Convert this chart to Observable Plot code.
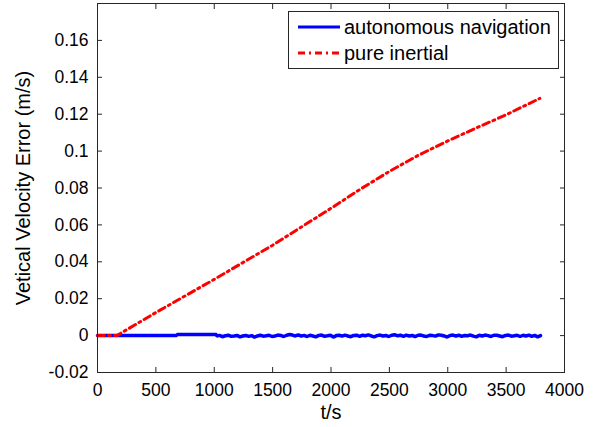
<!DOCTYPE html>
<html>
<head>
<meta charset="utf-8">
<script src="https://cdn.jsdelivr.net/npm/d3@7"></script>
<script src="https://cdn.jsdelivr.net/npm/@observablehq/plot@0.6"></script>
<style>
  html, body { margin: 0; padding: 0; background: #fff; }
  #wrap { position: relative; width: 603px; height: 427px; font-family: "Liberation Sans", Arial, sans-serif; }
  #legend { position: absolute; left: 288px; top: 11px; width: 271px; height: 58px; box-sizing: border-box;
            border: 1px solid #262626; background: #fff; }
  .row { position: absolute; left: 0; height: 26px; width: 100%; }
  .row svg { position: absolute; left: 8px; top: 0; }
  .row span { position: absolute; left: 55px; top: 1px; font-size: 20px; line-height: 24px; color: #000; }
</style>
</head>
<body>
<div id="wrap"></div>
<script>
// ---- data ----
const xTicks = [0, 500, 1000, 1500, 2000, 2500, 3000, 3500, 4000];
const yTicks = [-0.02, 0, 0.02, 0.04, 0.06, 0.08, 0.1, 0.12, 0.14, 0.16];
const seriesNames = ["autonomous navigation", "pure inertial"];

// pure inertial (red dash-dot)
const inertialT = [0, 165, 500, 1000, 1500, 2000, 2250, 2500, 2750, 3000, 3250, 3500, 3789];
const inertialV = [0, 0, 0.0125, 0.0305, 0.049, 0.069, 0.0793, 0.0890, 0.0978, 0.1055, 0.1127, 0.1197, 0.1286];

// autonomous navigation (blue): flat start, small step, then noisy
const navStartT = [0, 680, 680, 1020];
const navStartV = [0, 0, 0.0006, 0.0006];
const navNoiseStart = 1020, navNoiseStep = 25;
const navNoise = [
 -0.0003,0.0001,-0.0006,-0.0001,0.0002,-0.0004,-0.0002,0.0001,-0.0007,-0.0002,
 0.0001,-0.0004,0.0000,-0.0008,-0.0002,0.0002,-0.0003,-0.0001,0.0002,-0.0005,
 -0.0002,0.0003,0.0001,-0.0005,0.0002,0.0006,0.0003,-0.0002,0.0004,-0.0003,
 0.0001,-0.0005,0.0002,-0.0002,-0.0007,0.0001,0.0003,-0.0004,-0.0001,0.0002,
 -0.0008,0.0000,0.0002,-0.0003,0.0003,-0.0002,-0.0006,0.0001,0.0002,-0.0004,
 0.0002,-0.0001,0.0004,-0.0002,-0.0007,0.0000,0.0003,-0.0002,0.0001,-0.0005,
 0.0002,0.0005,-0.0001,0.0002,-0.0004,0.0003,-0.0002,0.0001,-0.0006,0.0002,
 0.0003,-0.0002,-0.0005,0.0002,0.0000,-0.0003,0.0004,0.0002,-0.0002,-0.0008,
 0.0001,0.0003,-0.0002,0.0002,-0.0004,0.0001,-0.0001,0.0003,-0.0003,-0.0007,
 0.0002,-0.0002,0.0003,0.0000,-0.0005,0.0002,0.0002,-0.0002,-0.0006,0.0001,
 0.0003,-0.0003,-0.0001,0.0002,-0.0005,0.0002,-0.0002,0.0003,-0.0004,0.0001,
 -0.0007,0.0000
];

const inertial = inertialT.map((t, i) => ({t, v: inertialV[i]}));
const nav = navStartT.map((t, i) => ({t, v: navStartV[i]}))
  .concat(navNoise.map((v, i) => ({t: navNoiseStart + i * navNoiseStep, v})));

const axisColor = "#262626";
const fmt = d => String(d);
const redDash = "7,4,2,4";

const chart = Plot.plot({
  width: 603,
  height: 427,
  marginLeft: 97,
  marginRight: 39,
  marginTop: 3,
  marginBottom: 55,
  style: {fontFamily: "'Liberation Sans', Arial, sans-serif", background: "#fff", color: "#000"},
  x: {domain: [0, 4000], axis: null},
  y: {domain: [-0.02, 0.18], axis: null},
  marks: [
    Plot.line(nav, {x: "t", y: "v", stroke: "#0000ff", strokeWidth: 3.5, strokeLinejoin: "miter"}),
    Plot.line(inertial, {x: "t", y: "v", stroke: "#ff0000", strokeWidth: 3, strokeDasharray: redDash}),
    // inward ticks on four sides
    Plot.axisX(xTicks, {anchor: "bottom", tickSize: 5, dy: -5, tickFormat: () => "", stroke: axisColor, label: null}),
    Plot.axisX(xTicks, {anchor: "top", tickSize: 5, dy: 5, tickFormat: () => "", stroke: axisColor, label: null}),
    Plot.axisY(yTicks, {anchor: "left", tickSize: 5, dx: 5, tickFormat: () => "", stroke: axisColor, label: null}),
    Plot.axisY(yTicks, {anchor: "right", tickSize: 5, dx: -5, tickFormat: () => "", stroke: axisColor, label: null}),
    // tick labels
    Plot.axisX(xTicks, {anchor: "bottom", tickSize: 0, tickPadding: 11, tickFormat: fmt, fontSize: 17.5, fill: "#000", label: null}),
    Plot.axisY(yTicks, {anchor: "left", tickSize: 0, tickPadding: 9, tickFormat: fmt, fontSize: 17.5, fill: "#000", label: null}),
    // axis titles
    Plot.text(["t/s"], {frameAnchor: "bottom", dy: 40, fontSize: 20, fill: "#000", lineAnchor: "middle", textAnchor: "middle"}),
    Plot.text(["Vetical Velocity Error (m/s)"], {frameAnchor: "left", dx: -74, rotate: -90, fontSize: 20, fill: "#000", textAnchor: "middle", lineAnchor: "middle"}),
    Plot.frame({stroke: axisColor})
  ]
});

const wrap = document.getElementById("wrap");
wrap.appendChild(chart);

// legend inside the plot area (top right)
const legend = document.createElement("div");
legend.id = "legend";
const styles = [
  {stroke: "#0000ff", dash: null},
  {stroke: "#ff0000", dash: redDash}
];
seriesNames.forEach((name, i) => {
  const row = document.createElement("div");
  row.className = "row";
  row.style.top = (2 + i * 26) + "px";
  const svg = d3.create("svg").attr("width", 44).attr("height", 26);
  const ln = svg.append("line").attr("x1", 1).attr("x2", 43).attr("y1", 13).attr("y2", 13)
    .attr("stroke", styles[i].stroke).attr("stroke-width", 3);
  if (styles[i].dash) ln.attr("stroke-dasharray", styles[i].dash);
  row.appendChild(svg.node());
  const sp = document.createElement("span");
  sp.textContent = name;
  row.appendChild(sp);
  legend.appendChild(row);
});
wrap.appendChild(legend);
</script>
</body>
</html>
